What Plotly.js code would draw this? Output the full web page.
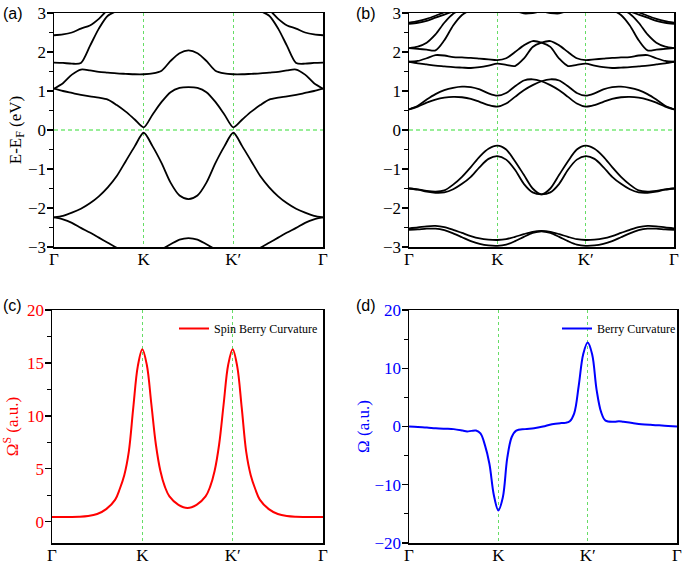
<!DOCTYPE html>
<html>
<head>
<meta charset="utf-8">
<script src="https://cdn.plot.ly/plotly-3.0.1.min.js"></script>
<style>html,body{margin:0;padding:0;background:#fff;}#chart{width:685px;height:566px;}</style>
</head>
<body>
<div id="chart"></div>
<script>
// k-path positions (Γ=0, K=1, K'=2, Γ=3)
const kPath = [0,0.1,0.2,0.3,0.4,0.5,0.6,0.7,0.8,0.9,1.0,1.1,1.2,1.3,1.4,1.5,1.6,1.7,1.8,1.9,2.0,2.1,2.2,2.3,2.4,2.5,2.6,2.7,2.8,2.9,3.0];
const kTickVals = [0,1,2,3];
const kTickText = ['Γ','K','K′','Γ'];

// Panel (a) bands (eV)
const aV2 = [-2.24,-2.29,-2.38,-2.51,-2.63,-2.76,-2.89,-3.02,-3.12,-3.18,-3.2,-3.16,-3.06,-2.93,-2.81,-2.77,-2.81,-2.93,-3.06,-3.16,-3.2,-3.18,-3.12,-3.02,-2.89,-2.76,-2.63,-2.51,-2.38,-2.29,-2.24];
const aV1 = [-2.24,-2.2,-2.12,-2.02,-1.88,-1.7,-1.47,-1.18,-0.8,-0.42,-0.07,-0.42,-0.85,-1.35,-1.68,-1.77,-1.68,-1.35,-0.85,-0.42,-0.07,-0.42,-0.8,-1.18,-1.47,-1.7,-1.88,-2.02,-2.12,-2.2,-2.24];
const aC1 = [1.06,1.0,0.95,0.9,0.86,0.83,0.78,0.64,0.47,0.27,0.07,0.4,0.72,0.97,1.08,1.1,1.08,0.97,0.72,0.4,0.07,0.27,0.47,0.64,0.78,0.83,0.86,0.9,0.95,1.0,1.06];
const aC2 = [1.06,1.2,1.42,1.55,1.53,1.49,1.47,1.45,1.44,1.43,1.43,1.45,1.52,1.77,1.97,2.04,1.97,1.77,1.52,1.45,1.43,1.43,1.44,1.45,1.47,1.49,1.53,1.55,1.42,1.2,1.06];
const aC3 = [1.73,1.72,1.7,1.72,2.15,2.6,2.93,3.05,3.15,3.25,3.3,3.35,3.4,3.4,3.4,3.4,3.4,3.4,3.4,3.35,3.3,3.25,3.15,3.05,2.93,2.6,2.15,1.72,1.7,1.72,1.73];
const aC4 = [2.43,2.45,2.5,2.6,2.68,2.85,3.08,3.2,3.3,3.4,3.45,3.5,3.5,3.5,3.5,3.5,3.5,3.5,3.5,3.5,3.45,3.4,3.3,3.2,3.08,2.85,2.68,2.6,2.5,2.45,2.43];

// Panel (b) bands (eV)
const bV2a = [-2.52,-2.5,-2.47,-2.46,-2.49,-2.56,-2.64,-2.72,-2.78,-2.81,-2.82,-2.8,-2.74,-2.67,-2.61,-2.59,-2.61,-2.67,-2.74,-2.8,-2.82,-2.81,-2.78,-2.72,-2.64,-2.56,-2.49,-2.46,-2.47,-2.5,-2.52];
const bV2b = [-2.56,-2.55,-2.53,-2.53,-2.57,-2.65,-2.75,-2.85,-2.92,-2.96,-2.97,-2.94,-2.85,-2.74,-2.64,-2.6,-2.64,-2.74,-2.85,-2.94,-2.97,-2.96,-2.92,-2.85,-2.75,-2.65,-2.57,-2.53,-2.53,-2.55,-2.56];
const bV1a = [-1.5,-1.52,-1.56,-1.58,-1.55,-1.4,-1.2,-0.95,-0.68,-0.48,-0.4,-0.5,-0.8,-1.15,-1.5,-1.65,-1.5,-1.15,-0.8,-0.5,-0.4,-0.48,-0.68,-0.95,-1.2,-1.4,-1.55,-1.58,-1.56,-1.52,-1.5];
const bV1b = [-1.5,-1.53,-1.58,-1.61,-1.6,-1.52,-1.38,-1.2,-0.95,-0.74,-0.67,-0.76,-1.02,-1.38,-1.6,-1.65,-1.6,-1.38,-1.02,-0.76,-0.67,-0.74,-0.95,-1.2,-1.38,-1.52,-1.6,-1.61,-1.58,-1.53,-1.5];
const bC1a = [0.53,0.6,0.7,0.78,0.83,0.85,0.84,0.8,0.72,0.64,0.6,0.68,0.85,1.02,1.15,1.25,1.3,1.27,1.12,0.95,0.88,0.94,1.04,1.1,1.11,1.08,1.02,0.92,0.78,0.62,0.53];
const bC1b = [0.53,0.62,0.78,0.92,1.02,1.08,1.11,1.1,1.04,0.94,0.88,0.95,1.12,1.27,1.3,1.25,1.15,1.02,0.85,0.68,0.6,0.64,0.72,0.8,0.84,0.85,0.83,0.78,0.7,0.6,0.53];
const bQ1 = [1.75,1.77,1.84,1.92,1.91,1.87,1.86,1.85,1.83,1.81,1.79,1.84,2.0,2.17,2.28,2.24,2.13,1.83,1.64,1.67,1.7,1.65,1.61,1.59,1.6,1.61,1.63,1.65,1.68,1.71,1.75];
const bQ2 = [1.75,1.71,1.68,1.65,1.63,1.61,1.6,1.59,1.61,1.65,1.7,1.67,1.64,1.83,2.13,2.24,2.28,2.17,2.0,1.84,1.79,1.81,1.83,1.85,1.86,1.87,1.91,1.92,1.84,1.77,1.75];
const bP1 = [2.1,2.14,2.24,2.45,2.75,2.98,3.1,3.2,3.3,3.35,3.4,3.4,3.4,3.4,3.4,3.4,3.4,3.4,3.4,3.4,3.4,3.35,3.3,3.2,3.1,2.98,2.75,2.45,2.24,2.14,2.1];
const bP2 = [2.1,2.08,2.06,2.04,2.3,2.68,2.95,3.08,3.18,3.25,3.3,3.35,3.35,3.35,3.35,3.35,3.35,3.35,3.35,3.35,3.3,3.25,3.18,3.08,2.95,2.68,2.3,2.04,2.06,2.08,2.1];
const bT1 = [2.75,2.79,2.85,2.93,3.02,3.1,3.18,3.25,3.3,3.35,3.4,3.4,3.4,3.4,3.4,3.4,3.4,3.4,3.4,3.4,3.4,3.35,3.3,3.25,3.18,3.1,3.02,2.93,2.85,2.79,2.75];
const bT2 = [2.72,2.75,2.8,2.88,2.96,3.04,3.12,3.2,3.27,3.32,3.36,3.4,3.4,3.4,3.4,3.4,3.4,3.4,3.4,3.4,3.36,3.32,3.27,3.2,3.12,3.04,2.96,2.88,2.8,2.75,2.72];
const bT3 = [3.4,3.4,3.4,3.4,3.4,3.4,3.4,3.38,3.33,3.27,3.2,3.12,3.06,2.99,3.0,3.04,3.0,2.99,3.06,3.12,3.2,3.27,3.33,3.38,3.4,3.4,3.4,3.4,3.4,3.4,3.4];

// Panel (c) spin Berry curvature
const kC = [0,0.1,0.2,0.3,0.4,0.5,0.6,0.7,0.75,0.8,0.85,0.9,0.95,1.0,1.05,1.1,1.15,1.2,1.25,1.3,1.4,1.5,1.6,1.7,1.75,1.8,1.85,1.9,1.95,2.0,2.05,2.1,2.15,2.2,2.25,2.3,2.4,2.5,2.6,2.7,2.8,2.9,3.0];
const spinBC = [0.45,0.45,0.46,0.48,0.55,0.74,1.2,2.1,3.1,4.4,6.6,10.8,14.7,16.3,14.8,11.1,7.3,4.8,3.3,2.4,1.6,1.3,1.6,2.4,3.3,4.8,7.3,11.1,14.8,16.3,14.7,10.8,6.6,4.4,3.1,2.1,1.2,0.74,0.55,0.48,0.46,0.45,0.45];

// Panel (d) Berry curvature
const kD = [0,0.1,0.2,0.3,0.4,0.5,0.6,0.65,0.7,0.75,0.8,0.85,0.9,0.95,1.0,1.05,1.1,1.15,1.2,1.3,1.4,1.5,1.6,1.7,1.75,1.8,1.85,1.9,1.95,2.0,2.05,2.1,2.15,2.2,2.3,2.35,2.4,2.5,2.6,2.7,2.8,2.9,3.0];
const berryC = [0.0,-0.1,-0.18,-0.3,-0.38,-0.45,-0.7,-0.85,-0.75,-0.7,-1.2,-3.2,-6.4,-11.8,-14.4,-12.2,-5.4,-1.8,-0.7,-0.45,-0.3,0.0,0.4,0.58,0.62,0.9,2.3,7.0,12.4,14.4,12.4,6.3,2.5,1.0,0.8,0.9,0.8,0.6,0.4,0.28,0.2,0.1,0.0];

const bandsA = [aV2,aV1,aC1,aC2,aC3,aC4];
const bandsB = [bV2a,bV2b,bV1a,bV1b,bC1a,bC1b,bQ1,bQ2,bP1,bP2,bT1,bT2,bT3];

const serif = 'Liberation Serif, Times New Roman, serif';
const traces = [];
bandsA.forEach(b => traces.push({x:kPath,y:b,xaxis:'x',yaxis:'y',mode:'lines',showlegend:false,hoverinfo:'skip',line:{color:'#000',width:1.8,shape:'spline',smoothing:0.8}}));
bandsB.forEach(b => traces.push({x:kPath,y:b,xaxis:'x2',yaxis:'y2',mode:'lines',showlegend:false,hoverinfo:'skip',line:{color:'#000',width:1.8,shape:'spline',smoothing:0.8}}));
traces.push({x:kC,y:spinBC,xaxis:'x3',yaxis:'y3',mode:'lines',name:'Spin Berry Curvature',legend:'legend',line:{color:'#ff0000',width:2,shape:'spline',smoothing:1}});
traces.push({x:kD,y:berryC,xaxis:'x4',yaxis:'y4',mode:'lines',name:'Berry Curvature',legend:'legend2',line:{color:'#0000ff',width:2,shape:'spline',smoothing:1}});

function xAx(dom, anchor){
  return {domain:dom, anchor:anchor, range:[0,3], tickvals:kTickVals, ticktext:kTickText, ticks:'', ticklabelstandoff:-4,
    showline:true, mirror:true, linecolor:'#000', linewidth:1.5, showgrid:true, gridcolor:'#66dd66', griddash:'dot', gridwidth:1,
    zeroline:false, tickfont:{family:serif,size:17,color:'#000'}, fixedrange:true};
}
function yAx(dom, anchor, range, dtick, minorDt, color, title, standoff){
  const ax = {domain:dom, anchor:anchor, range:range, dtick:dtick, tick0:0, ticks:'outside', ticklen:6, tickwidth:1.2, tickcolor:'#000',
    ticklabelstandoff:-3,
    minor:{dtick:minorDt, tick0:0, ticks:'outside', ticklen:3.5, tickwidth:1.2, tickcolor:'#000'},
    showline:true, mirror:true, linecolor:'#000', linewidth:1.5, showgrid:false, zeroline:false,
    tickfont:{family:serif,size:17,color:color}, fixedrange:true};
  if (title) ax.title = {text:title, font:{family:serif,size:17,color:color}, standoff:standoff};
  return ax;
}
const W=685,H=566;
const dx=(a,b)=>[a/W,b/W], dy=(top,bot)=>[1-bot/H,1-top/H];
const zeroLine = (xr,yr)=>({type:'line',xref:xr+' domain',x0:0,x1:1,yref:yr,y0:0,y1:0,line:{color:'#33dd33',width:1,dash:'4px,3px'}});
const label = (t,px,py)=>({text:t,xref:'paper',yref:'paper',x:px/W,y:1-py/H,xanchor:'left',yanchor:'middle',showarrow:false,font:{family:'Liberation Sans, Arial, sans-serif',size:16,color:'#000'}});

const layout = {
  width:W, height:H, margin:{l:0,r:0,t:0,b:0}, paper_bgcolor:'#fff', plot_bgcolor:'#fff',
  xaxis: xAx(dx(54,323),'y'),
  yaxis: yAx(dy(13,247),'x',[-3,3],1,0.5,'#000','E-E<sub>F</sub> (eV)',2),
  xaxis2: xAx(dx(409,674),'y2'),
  yaxis2: yAx(dy(13,247),'x2',[-3,3],1,0.5,'#000','',0),
  xaxis3: xAx(dx(52,323),'y3'),
  yaxis3: yAx(dy(310,543),'x3',[-2,20],5,2.5,'#ff0000','Ω<sup>S</sup> (a.u.)',6),
  xaxis4: xAx(dx(409,677),'y4'),
  yaxis4: yAx(dy(310,543),'x4',[-20,20],10,5,'#0000ff','Ω (a.u.)',0),
  shapes:[zeroLine('x','y'), zeroLine('x2','y2')],
  annotations:[label('(a)',1,13), label('(b)',354,13), label('(c)',1,305), label('(d)',354,305)],
  legend:{x:174/W, y:1-314/H, xanchor:'left', yanchor:'top', bgcolor:'rgba(0,0,0,0)', font:{family:serif,size:12,color:'#000'}, itemwidth:30},
  legend2:{x:557/W, y:1-314/H, xanchor:'left', yanchor:'top', bgcolor:'rgba(0,0,0,0)', font:{family:serif,size:12,color:'#000'}, itemwidth:30}
};
Plotly.newPlot('chart', traces, layout, {staticPlot:true, displayModeBar:false});
</script>
</body>
</html>
